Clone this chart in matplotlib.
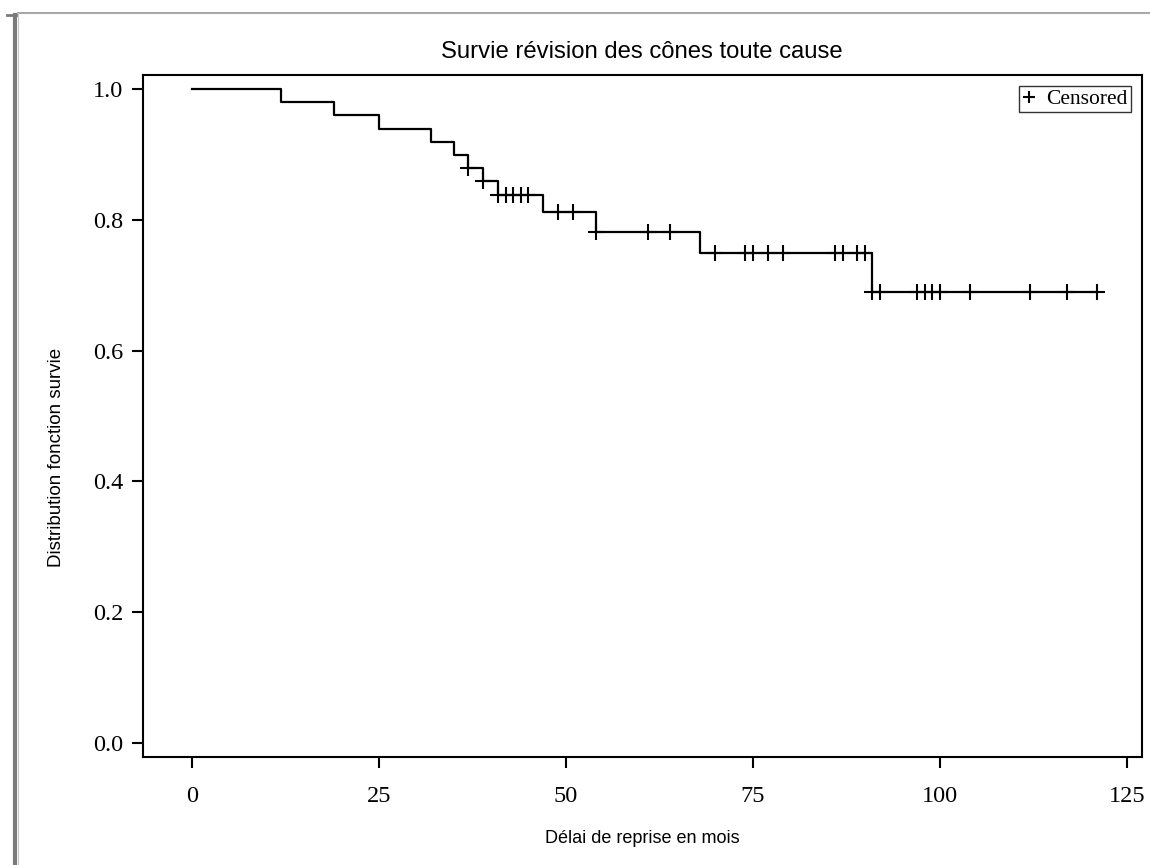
import matplotlib
matplotlib.use("Agg")
import matplotlib.pyplot as plt
from matplotlib.lines import Line2D
import numpy as np

# Kaplan-Meier estimate
event_times = [0, 12, 19, 25, 32, 35, 37, 39, 41, 47, 54, 68, 91]
survival = [1.0, 0.98, 0.96, 0.94, 0.92, 0.90, 0.88, 0.86, 0.838, 0.812, 0.782, 0.749, 0.690]
last_time = 121
censored_times = [37, 39, 41, 42, 43, 44, 45, 49, 51, 54, 61, 64,
                  70, 74, 75, 77, 79, 86, 87, 89, 90,
                  91, 92, 97, 98, 99, 100, 104, 112, 117, 121]

x_ticks = [0, 25, 50, 75, 100, 125]
y_ticks = [0.0, 0.2, 0.4, 0.6, 0.8, 1.0]

title = "Survie révision des cônes toute cause"
xlabel = "Délai de reprise en mois"
ylabel = "Distribution fonction survie"

serif = "Liberation Serif"
sans = "Liberation Sans"

fig = plt.figure(figsize=(11.5, 8.65), dpi=100)
ax = fig.add_axes([0.1241, 0.1245, 0.8687, 0.7888])

# step curve
xs = list(event_times) + [last_time]
ys = list(survival) + [survival[-1]]
ax.step(xs, ys, where="post", color="black", lw=1.6)

# censored marks on the curve
idx = np.searchsorted(event_times, censored_times, side="right") - 1
cens_y = np.array(survival)[idx]
ax.plot(censored_times, cens_y, ls="none", marker="+", ms=11, mew=1.5,
        color="black", label="Censored")

ax.set_xlim(-6.55, 127.0)
ax.set_ylim(-0.0222, 1.0219)
ax.set_xticks(x_ticks)
ax.set_yticks(y_ticks)
ax.set_xticklabels([str(t) for t in x_ticks], fontfamily=serif, fontsize=17.5)
ax.set_yticklabels([f"{t:.1f}" for t in y_ticks], fontfamily=serif, fontsize=17.5)
ax.tick_params(axis="both", direction="out", length=8, width=1.5, colors="black")
ax.tick_params(axis="y", pad=6)
ax.tick_params(axis="x", pad=13)
for sp in ax.spines.values():
    sp.set_linewidth(1.5)

ax.set_title(title, fontfamily=sans, fontsize=17.2, pad=12)
ax.set_xlabel(xlabel, fontfamily=sans, fontsize=13, labelpad=16)
ax.set_ylabel(ylabel, fontfamily=sans, fontsize=13.5)
ax.yaxis.set_label_coords(-0.078, 0.44)

leg = ax.legend(loc="upper right", prop={"family": serif, "size": 15.5},
                frameon=True, fancybox=False, handlelength=0.6, handletextpad=0.5,
                borderpad=0.15, borderaxespad=0.5, markerscale=0.85)
leg.get_frame().set_edgecolor("black")
leg.get_frame().set_linewidth(1.0)

# page border seen in the screenshot
W, H = 1150, 865
fig.add_artist(Line2D([14.5 / W, 14.5 / W], [0, 1 - 15 / H], color="#7a7a7a", lw=3.0,
                      transform=fig.transFigure))
fig.add_artist(Line2D([7 / W, 16 / W], [1 - 15 / H, 1 - 15 / H], color="#7a7a7a", lw=2.0,
                      transform=fig.transFigure))
fig.add_artist(Line2D([17.5 / W, 1], [1 - 13 / H, 1 - 13 / H], color="#a8a8a8", lw=1.5,
                      transform=fig.transFigure))
fig.add_artist(Line2D([17.5 / W, 17.5 / W], [0, 1 - 13 / H], color="#c8c8c8", lw=0.8,
                      transform=fig.transFigure))

fig.savefig("out.png", dpi=100)
